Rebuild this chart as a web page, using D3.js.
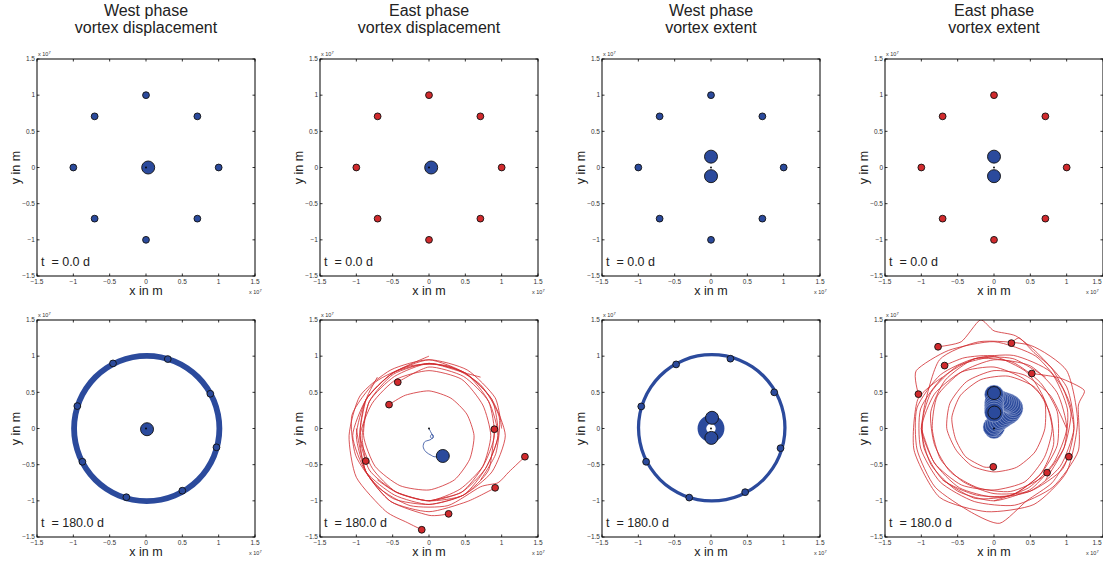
<!DOCTYPE html>
<html>
<head>
<meta charset="utf-8">
<script src="https://cdn.jsdelivr.net/npm/d3@7"></script>
<style>
  body { margin: 0; background: #fff; }
  svg { display: block; font-family: 'Liberation Sans', Arial, sans-serif; }
</style>
</head>
<body>
<svg id="chart" width="1103" height="563"></svg>
<script>
// all positions are in units of 1e7 m
const ticks = [-1.5, -1, -0.5, 0, 0.5, 1, 1.5];
const titles = [
  ['West phase', 'vortex displacement'],
  ['East phase', 'vortex displacement'],
  ['West phase', 'vortex extent'],
  ['East phase', 'vortex extent']
];
const timeLabels = ['t  = 0.0 d', 't  = 180.0 d'];

// t = 0, the ring of eight vortices
const startRing = [[0, 1], [0.707, 0.707], [1, 0], [0.707, -0.707], [0, -1], [-0.707, -0.707], [-1, 0], [-0.707, 0.707]];
const startCenterDisp = [[0.03, 0]];
const startCenterExt = [[0, 0.15], [0, -0.12]];

// t = 180 d, final positions
const westDispFinal = [[-0.454, 0.9], [0.3, 0.96], [0.885, 0.48], [0.97, -0.26], [0.5, -0.86], [-0.27, -0.95], [-0.875, -0.46], [-0.945, 0.31]];
const westDispCenter = [[0.014, -0.01]];
const eastDispFinal = [[-0.43, 0.64], [-0.55, 0.33], [0.9, -0.01], [1.32, -0.39], [0.91, -0.82], [0.27, -1.18], [-0.1, -1.4], [-0.87, -0.45]];
const eastDispCenter = [[0.19, -0.38]];
const westExtFinal = [[-0.48, 0.886], [0.267, 0.965], [0.87, 0.5], [0.957, -0.272], [0.47, -0.88], [-0.3, -0.955], [-0.893, -0.46], [-0.96, 0.305]];
const westExtCenter = [[0.014, 0.148], [0.005, -0.13]];
const eastExtFinal = [[-0.77, 1.13], [0.24, 1.18], [-0.68, 0.87], [0.52, 0.76], [-1.04, 0.475], [1.03, -0.39], [0.73, -0.61], [-0.01, -0.53]];
const eastExtCenter = [[0, 0.49], [0.005, 0.22]];

// swept bands of the west phase runs (the tracks lie on top of each other)
const westDispBand = [{cx: 0.01, cy: 0, inner: 0.96, outer: 1.04}];
const westExtBand = [{cx: 0.01, cy: 0.01, inner: 0.985, outer: 1.03}, {cx: 0, cy: 0, inner: 0.065, outer: 0.185}];

// the polar vortex track, east phase displacement
const eastDispCenterTrack = [[0, 0], [0.02, -0.04], [0.046, -0.09], [0.06, -0.12], [0.04, -0.14], [0.02, -0.11], [0.04, -0.08], [0.06, -0.1], [0.03, -0.15], [-0.03, -0.17], [-0.06, -0.185], [-0.08, -0.25], [-0.046, -0.32], [0.03, -0.37], [0.07, -0.39], [0.19, -0.38]];
// the swept vortex extent, east phase
const eastExtTrail = [[-0.02, 0.02], [0, -0.01], [0.02, 0.02], [0, 0.04], [-0.02, 0.02], [0.01, 0.05], [0.04, 0.08], [0.07, 0.1], [0.1, 0.12], [0.13, 0.14], [0.16, 0.16], [0.19, 0.18], [0.22, 0.2], [0.24, 0.22], [0.26, 0.25], [0.27, 0.28], [0.26, 0.31], [0.24, 0.33], [0.21, 0.35], [0.18, 0.36], [0.15, 0.37], [0.12, 0.38], [0.09, 0.39], [0.06, 0.41], [0.03, 0.43], [0.01, 0.45], [0, 0.47], [0, 0.36], [0, 0.32], [0, 0.28], [0, 0.25], [0, 0.22]];

// tracks of the eight ring vortices, east phase displacement
const eastDispTracks = [
  [[0, 1], [-0.5, 0.766], [-0.866, 0.4], [-0.95, -0.1], [-0.82, -0.575], [-0.45, -0.88], [0, -1], [0.475, -0.92], [0.78, -0.55], [0.95, -0.1], [0.82, 0.375], [0.475, 0.72], [0, 0.85], [-0.43, 0.64]],
  [[0.71, 0.71], [0.5, 0.766], [0, 0.9], [-0.49, 0.75], [-0.82, 0.375], [-0.9, -0.1], [-0.74, -0.525], [-0.4, -0.79], [0, -0.85], [0.35, -0.71], [0.56, -0.425], [0.62, -0.1], [0.52, 0.2], [0.3, 0.42], [0, 0.52], [-0.325, 0.46], [-0.55, 0.33]],
  [[1, 0], [0.91, 0.425], [0.525, 0.81], [0, 0.95], [-0.5, 0.766], [-0.866, 0.4], [-1.05, -0.1], [-0.866, -0.6], [-0.475, -0.92], [0, -1.05], [0.475, -0.92], [0.82, -0.575], [0.9, -0.01]],
  [[0.71, -0.71], [0.92, -0.345], [0.966, 0.16], [0.707, 0.607], [0.26, 0.866], [-0.26, 0.866], [-0.74, 0.64], [-1.06, 0.185], [-1.01, -0.37], [-0.707, -0.807], [-0.26, -1.066], [0.26, -1.066], [0.707, -0.807], [0.95, -0.75], [1.1, -0.6], [1.32, -0.39]],
  [[0, -1], [0.45, -0.88], [0.74, -0.525], [0.85, -0.1], [0.74, 0.325], [0.45, 0.68], [0, 0.8], [-0.45, 0.68], [-0.78, 0.35], [-0.95, -0.1], [-0.866, -0.6], [-0.525, -1.01], [0, -1.15], [0.525, -1.01], [0.91, -0.82]],
  [[-0.71, -0.71], [-0.45, -0.88], [0, -1], [0.425, -0.84], [0.74, -0.525], [0.9, -0.1], [0.82, 0.375], [0.5, 0.766], [0, 0.9], [-0.5, 0.766], [-0.866, 0.4], [-1, -0.1], [-0.866, -0.6], [-0.525, -1.01], [0, -1.2], [0.27, -1.18]],
  [[-1, 0], [-0.866, -0.6], [-0.5, -0.966], [0, -1.05], [0.475, -0.92], [0.866, -0.6], [1.05, -0.1], [0.866, 0.4], [0.5, 0.766], [0, 0.95], [-0.525, 0.81], [-0.95, 0.45], [-1.1, -0.1], [-1, -0.675], [-0.6, -1.14], [-0.3, -1.3], [-0.1, -1.4]],
  [[-0.71, 0.71], [-0.866, 0.4], [-0.95, -0.1], [-0.78, -0.55], [-0.45, -0.88], [0, -1], [0.45, -0.88], [0.78, -0.55], [0.95, -0.1], [0.866, 0.4], [0.5, 0.766], [0, 0.9], [-0.475, 0.72], [-0.82, 0.375], [-0.92, -0.1], [-0.87, -0.45]]
];

// tracks of the eight ring vortices, east phase extent
const eastExtTracks = [
  [[0, 1], [-0.5, 0.866], [-0.866, 0.5], [-1, 0], [-0.82, -0.475], [-0.475, -0.82], [0, -0.95], [0.5, -0.866], [0.91, -0.525], [1.1, 0], [1, 0.575], [0.6, 1.04], [0.3, 1.28], [0, 1.35], [-0.19, 1.5], [-0.45, 1.2], [-0.77, 1.13]],
  [[0.71, 0.71], [0.26, 0.966], [-0.26, 0.966], [-0.67, 0.67], [-0.87, 0.23], [-0.82, -0.22], [-0.6, -0.6], [-0.22, -0.82], [0.23, -0.87], [0.67, -0.67], [0.966, -0.26], [1.06, 0.285], [0.81, 0.81], [0.55, 1.05], [0.35, 1.25], [0.24, 1.18]],
  [[1, 0], [0.78, 0.45], [0.425, 0.736], [0, 0.8], [-0.375, 0.65], [-0.606, 0.35], [-0.65, 0], [-0.52, -0.3], [-0.3, -0.52], [0, -0.6], [0.31, -0.537], [0.563, -0.325], [0.7, 0], [0.693, 0.4], [0.45, 0.78], [0, 1], [-0.4, 0.98], [-0.68, 0.87]],
  [[0.71, -0.71], [0.966, -0.26], [1.01, 0.27], [0.78, 0.78], [0.27, 1.01], [-0.26, 0.966], [-0.707, 0.707], [-1.01, 0.27], [-1.01, -0.27], [-0.74, -0.74], [-0.27, -1.01], [0.285, -1.06], [0.81, -0.81], [1.16, -0.31], [1.16, 0.31], [1.24, 0.53], [0.9, 0.7], [0.52, 0.76]],
  [[0, -1], [0.475, -0.82], [0.82, -0.475], [1, 0], [0.866, 0.5], [0.5, 0.866], [0, 0.95], [-0.45, 0.78], [-0.78, 0.45], [-0.85, 0], [-0.736, -0.425], [-0.425, -0.736], [0, -0.9], [0.5, -0.866], [0.95, -0.55], [1.1, 0], [0.95, 0.55], [0.575, 1], [0, 1.2], [-0.625, 1.08], [-1.07, 0.8], [-1.04, 0.475]],
  [[-0.71, -0.71], [-0.26, -0.966], [0.246, -0.92], [0.636, -0.636], [0.87, -0.233], [0.87, 0.233], [0.636, 0.636], [0.246, 0.92], [-0.26, 0.966], [-0.74, 0.74], [-1.06, 0.285], [-1.06, -0.285], [-0.81, -0.81], [-0.31, -1.16], [0.08, -1.31], [0.45, -1], [0.8, -0.75], [1.03, -0.39]],
  [[-1, 0], [-0.82, -0.475], [-0.45, -0.78], [0, -0.85], [0.425, -0.736], [0.693, -0.4], [0.8, 0], [0.693, 0.4], [0.4, 0.693], [0, 0.85], [-0.45, 0.78], [-0.82, 0.475], [-1, 0], [-0.866, -0.5], [-0.5, -0.866], [0, -1], [0.49, -0.85], [0.73, -0.61]],
  [[-0.71, 0.71], [-1.05, 0.4], [-1.1, -0.3], [-0.75, -0.95], [-0.1, -1.15], [0.55, -1.05], [1, -0.6], [1.15, 0.1], [1, 0.8], [0.5, 1.15], [-0.2, 1.2], [-0.75, 0.95], [-0.966, 0.26], [-0.966, -0.26], [-0.707, -0.707], [-0.246, -0.92], [0.246, -0.92], [0.636, -0.636], [0.82, -0.22], [0.77, 0.207], [0.566, 0.566], [0.194, 0.724], [-0.18, 0.676], [-0.46, 0.46], [-0.58, 0.155], [-0.53, -0.142], [-0.39, -0.39], [-0.142, -0.53], [-0.01, -0.53]]
];

const BLUE = '#2b4a9c';
const RED = '#d12a2d';
const WIDTH = 1103;
const PANEL_W = 218;
const PANEL_H = 217;
const LEFTS = [37, 320, 602, 885];
const TOPS = [59, 320];
const SMALL_R = 3.4;
const BIG_R = 6.5;
const TRAIL_R = 0.13;

const svg = d3.select('#chart');

/**
 * draws the box, the inward ticks on all four sides, tick labels and axis titles
 */
function drawAxes(g, scales, left, top, timeLabel) {
  const {x, y} = scales;
  const right = left + PANEL_W;
  const bottom = top + PANEL_H;
  const TL = 2.5;

  g.append('rect')
    .attr('x', left)
    .attr('y', top)
    .attr('width', PANEL_W)
    .attr('height', PANEL_H)
    .attr('fill', 'none')
    .attr('stroke', '#000')
    .attr('stroke-width', 1);

  const tickPaths = [];
  ticks.forEach(t => {
    tickPaths.push(`M${x(t)},${bottom}v${-TL}M${x(t)},${top}v${TL}`);
    tickPaths.push(`M${left},${y(t)}h${TL}M${right},${y(t)}h${-TL}`);
  });
  g.append('path')
    .attr('d', tickPaths.join(''))
    .attr('stroke', '#000')
    .attr('stroke-width', 0.8)
    .attr('fill', 'none');

  // the last label of the right column would run off the page, pin it to the edge
  g.selectAll('.xtl')
    .data(ticks)
    .enter()
    .append('text')
    .attr('x', d => Math.min(x(d), WIDTH - 6))
    .attr('y', bottom + 8)
    .attr('text-anchor', 'middle')
    .attr('font-size', 6.5)
    .attr('fill', '#333')
    .text(d => String(d).replace('-', '\u2212'));
  g.selectAll('.ytl')
    .data(ticks)
    .enter()
    .append('text')
    .attr('x', left - 2)
    .attr('y', d => y(d) + 2.3)
    .attr('text-anchor', 'end')
    .attr('font-size', 6.5)
    .attr('fill', '#333')
    .text(d => String(d).replace('-', '\u2212'));

  // exponent labels
  const expTop = g.append('text')
    .attr('x', left + 1)
    .attr('y', top - 3)
    .attr('font-size', 5.5)
    .attr('fill', '#333');
  expTop.append('tspan').text('x 10');
  expTop.append('tspan').attr('dy', -2.5).attr('font-size', 4).text('7');
  const expBot = g.append('text')
    .attr('x', Math.min(right - 6, WIDTH - 17))
    .attr('y', bottom + 18)
    .attr('font-size', 5.5)
    .attr('fill', '#333');
  expBot.append('tspan').text('x 10');
  expBot.append('tspan').attr('dy', -2.5).attr('font-size', 4).text('7');

  g.append('text')
    .attr('x', left + PANEL_W / 2)
    .attr('y', bottom + 19)
    .attr('text-anchor', 'middle')
    .attr('font-size', 12.5)
    .attr('fill', '#222')
    .text('x in m');
  g.append('text')
    .attr('transform', `translate(${left - 17},${top + PANEL_H / 2}) rotate(-90)`)
    .attr('text-anchor', 'middle')
    .attr('font-size', 12.5)
    .attr('fill', '#222')
    .text('y in m');
  g.append('text')
    .attr('x', left + 4)
    .attr('y', bottom - 10)
    .attr('font-size', 12.5)
    .attr('fill', '#222')
    .style('white-space', 'pre')
    .text(timeLabel);
}

function drawMarkers(g, scales, points, fill, r) {
  const {x, y} = scales;
  g.append('g')
    .selectAll('circle')
    .data(points)
    .enter()
    .append('circle')
    .attr('cx', d => x(d[0]))
    .attr('cy', d => y(d[1]))
    .attr('r', r)
    .attr('fill', fill)
    .attr('stroke', '#111')
    .attr('stroke-width', 0.9);
}

function drawOriginDot(g, scales) {
  g.append('circle')
    .attr('cx', scales.x(0))
    .attr('cy', scales.y(0))
    .attr('r', 0.9)
    .attr('fill', '#000');
}

function drawBands(g, scales, bands) {
  const {x, y} = scales;
  const px = v => x(v) - x(0);
  g.append('g')
    .selectAll('path')
    .data(bands)
    .enter()
    .append('path')
    .attr('transform', d => `translate(${x(d.cx)},${y(d.cy)})`)
    .attr('d', d => d3.arc()({innerRadius: px(d.inner), outerRadius: px(d.outer), startAngle: 0, endAngle: 2 * Math.PI}))
    .attr('fill', BLUE);
}

function drawTracks(g, scales, tracks, color, width, curve) {
  const {x, y} = scales;
  const line = d3.line()
    .x(d => x(d[0]))
    .y(d => y(d[1]))
    .curve(curve);
  g.append('g')
    .selectAll('path')
    .data(tracks)
    .enter()
    .append('path')
    .attr('d', line)
    .attr('fill', 'none')
    .attr('stroke', color)
    .attr('stroke-width', width)
    .attr('stroke-linejoin', 'round');
}

function drawTrail(g, scales, trail) {
  const {x, y} = scales;
  g.append('g')
    .selectAll('circle')
    .data(trail)
    .enter()
    .append('circle')
    .attr('cx', d => x(d[0]))
    .attr('cy', d => y(d[1]))
    .attr('r', x(TRAIL_R) - x(0))
    .attr('fill', BLUE)
    .attr('stroke', '#d5dcef')
    .attr('stroke-width', 0.4);
}

const smooth = d3.curveCatmullRom.alpha(0.5);
// sampled coarsely in the original, so the loops are only half rounded
const jagged = d3.curveCardinal.tension(0.35);

// what goes in each of the 8 panels
const panels = [
  {col: 0, row: 0, draw: (g, s) => { drawMarkers(g, s, startRing, BLUE, SMALL_R); drawMarkers(g, s, startCenterDisp, BLUE, BIG_R); drawOriginDot(g, s); }},
  {col: 1, row: 0, draw: (g, s) => { drawMarkers(g, s, startRing, RED, SMALL_R); drawMarkers(g, s, startCenterDisp, BLUE, BIG_R); drawOriginDot(g, s); }},
  {col: 2, row: 0, draw: (g, s) => { drawMarkers(g, s, startRing, BLUE, SMALL_R); drawMarkers(g, s, startCenterExt, BLUE, BIG_R); drawOriginDot(g, s); }},
  {col: 3, row: 0, draw: (g, s) => { drawMarkers(g, s, startRing, RED, SMALL_R); drawMarkers(g, s, startCenterExt, BLUE, BIG_R); drawOriginDot(g, s); }},
  {col: 0, row: 1, draw: (g, s) => { drawBands(g, s, westDispBand); drawMarkers(g, s, westDispFinal, BLUE, SMALL_R); drawMarkers(g, s, westDispCenter, BLUE, BIG_R); drawOriginDot(g, s); }},
  {col: 1, row: 1, draw: (g, s) => { drawTracks(g, s, eastDispTracks, RED, 0.8, jagged); drawTracks(g, s, [eastDispCenterTrack], BLUE, 0.8, smooth); drawMarkers(g, s, eastDispFinal, RED, SMALL_R); drawMarkers(g, s, eastDispCenter, BLUE, BIG_R); drawOriginDot(g, s); }},
  {col: 2, row: 1, draw: (g, s) => { drawBands(g, s, westExtBand); drawMarkers(g, s, westExtFinal, BLUE, SMALL_R); drawMarkers(g, s, westExtCenter, BLUE, BIG_R); drawOriginDot(g, s); }},
  {col: 3, row: 1, draw: (g, s) => { drawTracks(g, s, eastExtTracks, RED, 0.8, jagged); drawTrail(g, s, eastExtTrail); drawMarkers(g, s, eastExtFinal, RED, SMALL_R); drawMarkers(g, s, eastExtCenter, BLUE, BIG_R); drawOriginDot(g, s); }}
];

panels.forEach((p, i) => {
  const left = LEFTS[p.col];
  const top = TOPS[p.row];
  const scales = {
    x: d3.scaleLinear().domain([-1.5, 1.5]).range([left, left + PANEL_W]),
    y: d3.scaleLinear().domain([-1.5, 1.5]).range([top + PANEL_H, top])
  };
  const g = svg.append('g');
  g.append('clipPath')
    .attr('id', `clip${i}`)
    .append('rect')
    .attr('x', left)
    .attr('y', top)
    .attr('width', PANEL_W)
    .attr('height', PANEL_H);
  const plot = g.append('g').attr('clip-path', `url(#clip${i})`);
  p.draw(plot, scales);
  drawAxes(g, scales, left, top, timeLabels[p.row]);
});

// column titles
titles.forEach((lines, i) => {
  const t = svg.append('text')
    .attr('x', LEFTS[i] + PANEL_W / 2)
    .attr('y', 16)
    .attr('text-anchor', 'middle')
    .attr('font-size', 16)
    .attr('fill', '#222');
  t.append('tspan').attr('x', LEFTS[i] + PANEL_W / 2).text(lines[0]);
  t.append('tspan').attr('x', LEFTS[i] + PANEL_W / 2).attr('dy', 17).text(lines[1]);
});
</script>
</body>
</html>
